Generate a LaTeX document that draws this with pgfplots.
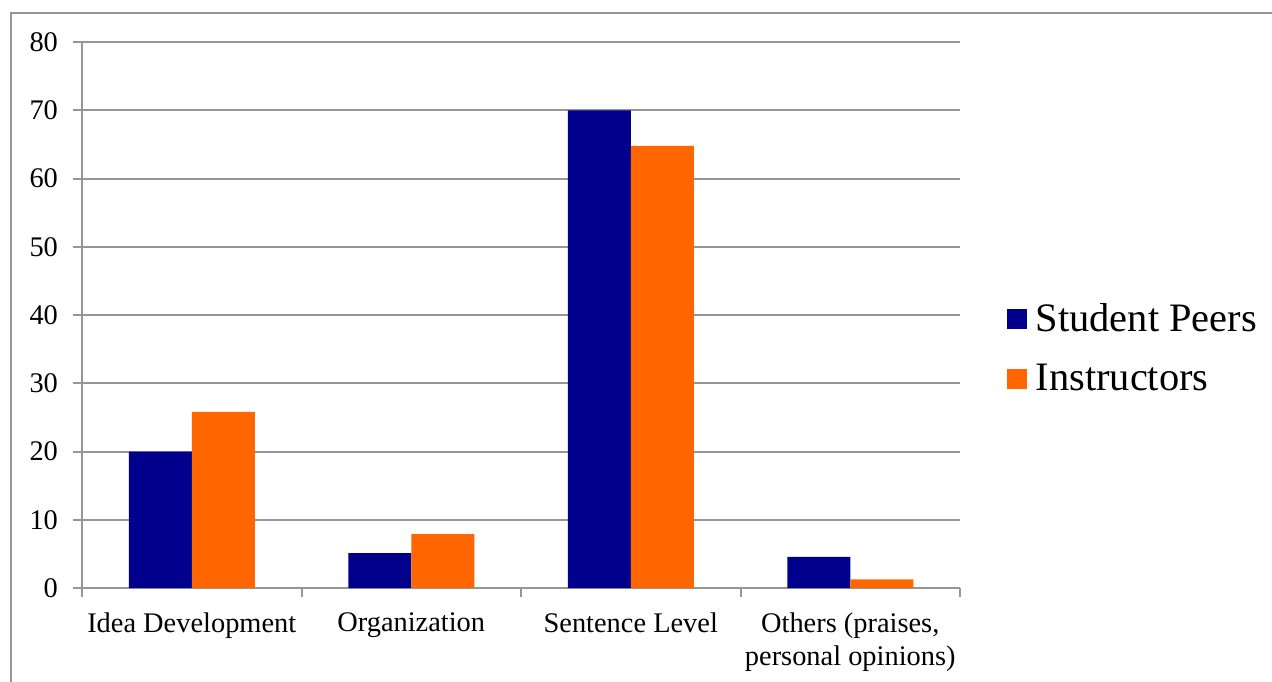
\documentclass[border=0pt]{standalone}
\usepackage{fontspec}
\setmainfont{Liberation Serif}
\usepackage{pgfplots}
\pgfplotsset{compat=1.18}
\definecolor{peer}{RGB}{0,0,140}
\definecolor{instr}{RGB}{255,102,0}
\definecolor{gridc}{RGB}{150,150,150}
\begin{document}
\begin{tikzpicture}
\useasboundingbox (0,0) rectangle (636pt,-340.5pt);
\draw[gridc, line width=0.8pt] (5.5pt,-341pt) -- (5.5pt,-6.5pt) -- (637pt,-6.5pt);
\begin{axis}[
  at={(41pt,-294pt)}, anchor=south west,
  scale only axis, width=439pt, height=273pt,
  ymin=0, ymax=80, ytick={0,10,...,80},
  xmin=-0.5, xmax=3.5,
  xtick={0,1,2,3},
  xticklabels={Idea Development, Organization, Sentence Level, {Others (praises,\\personal opinions)}},
  xticklabel style={align=center, yshift=-4.5pt},
  yticklabel style={xshift=-4pt},
  ticklabel style={font=\fontsize{14.2}{16.2}\selectfont},
  /pgf/number format/assume math mode=true,
  axis x line*=bottom, axis y line*=left,
  axis line style={gridc, line width=1pt, -},
  ymajorgrids, grid style={gridc, line width=1pt},
  tick style={gridc, line width=1pt},
  tick align=outside,
  major tick length=4.5pt,
  xtick style={draw=none},
  extra x ticks={-0.5,0.5,1.5,2.5,3.5},
  extra x tick labels={},
  extra x tick style={xtick style={draw=gridc, line width=1pt}},
  ybar=0pt, bar width=31.5pt,
  legend style={at={(1.046,0.4386)}, anchor=west, draw=none, fill=none,
    font=\fontsize{20.2}{24}\selectfont, row sep=10.5pt,
    /tikz/every odd column/.append style={column sep=2.5pt}},
  legend cell align=left,
  legend image code/.code={\fill[#1] (0pt,-5pt) rectangle (10pt,5pt);},
]
\addplot[fill=peer, draw=none] coordinates {(0,20) (1,5.1) (2,70) (3,4.55)};
\addplot[fill=instr, draw=none] coordinates {(0,25.8) (1,7.9) (2,64.8) (3,1.27)};
\legend{Student Peers, Instructors}
\end{axis}
\end{tikzpicture}
\end{document}
